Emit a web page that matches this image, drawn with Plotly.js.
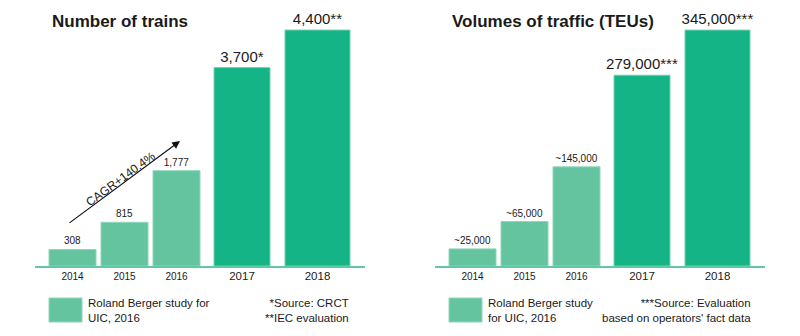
<!DOCTYPE html>
<html><head><meta charset="utf-8">
<script src="https://cdn.plot.ly/plotly-3.0.1.min.js"></script>
<style>html,body{margin:0;padding:0;background:#fff}#chart{width:800px;height:336px}</style>
</head><body><div id="chart"></div>
<script>
// ---- data ----
const years = ["2014", "2015", "2016", "2017", "2018"];
const trains = [308, 815, 1777, 3700, 4400];
const trainLabels = ["308", "815", "1,777", "3,700*", "4,400**"];
const teus = [25000, 65000, 145000, 279000, 345000];
const teuLabels = ["~25,000", "~65,000", "~145,000", "279,000***", "345,000***"];
const sources = ["study", "study", "study", "eval", "eval"];

// ---- layout helpers (styling, not data) ----
const W = 800, H = 336;
const barCenters = [37.5, 89.5, 141.5, 207, 282.5]; // px within axis
const barWidths = [47, 47, 47, 56, 65];
const lightG = "#64c4a0", darkG = "#15b487";
const colors = sources.map(s => s === "study" ? lightG : darkG);
const lineCols = sources.map(s => s === "study" ? "#8fd5ba" : "#6fd3b0");
const labelSizes = sources.map(s => s === "study" ? 10 : 15);
const tickSizes = sources.map(s => s === "study" ? 10 : 11.5);
const tickText = years.map((y, i) => `<span style="font-size:${tickSizes[i]}px">${y}</span>`);
const px = x => x / W, py = y => 1 - y / H;
const FONT = "Liberation Sans, Arial, sans-serif";

function barTrace(vals, labels, xa, ya) {
  return {
    type: "bar", x: barCenters, y: vals, width: barWidths,
    xaxis: xa, yaxis: ya,
    marker: {color: colors, line: {color: lineCols, width: 1}},
    text: labels, textposition: "outside", cliponaxis: false, constraintext: "none",
    textfont: {size: labelSizes, color: "#1a1a1a", family: FONT},
    hoverinfo: "skip", showlegend: false
  };
}

const data = [
  barTrace(trains, trainLabels, "x", "y"),
  barTrace(teus, teuLabels, "x2", "y2")
];

function xaxis(d0, d1, anchor) {
  return {
    domain: [px(d0), px(d1)], range: [0, 330], anchor: anchor,
    showgrid: false, zeroline: false, showline: true,
    linecolor: "#5fc9a1", linewidth: 2,
    tickmode: "array", tickvals: barCenters, ticktext: tickText,
    ticks: "", tickfont: {family: FONT, color: "#1a1a1a", size: 10},
    fixedrange: true
  };
}
function yaxis(max, anchor) {
  return {
    domain: [1 - 266 / H, 1], range: [0, max], anchor: anchor,
    visible: false, showgrid: false, zeroline: false, fixedrange: true
  };
}

const ann = [];
function txt(x, y, text, size, opts) {
  ann.push(Object.assign({
    xref: "paper", yref: "paper", x: px(x), y: py(y), text: text,
    showarrow: false, font: {family: FONT, size: size, color: "#1a1a1a"},
    xanchor: "left", yanchor: "middle", align: "left"
  }, opts || {}));
}
// titles
txt(50, 21, "<b>Number of trains</b>", 17);
txt(450, 21, "<b>Volumes of traffic (TEUs)</b>", 17);
// CAGR arrow
ann.push({xref: "paper", yref: "paper", x: px(180), y: py(141), ax: -112, ay: 83,
  axref: "pixel", ayref: "pixel", text: "", showarrow: true,
  arrowhead: 2, arrowsize: 1.3, arrowwidth: 1.2, arrowcolor: "#111"});
txt(120.5, 178.5, "CAGR+140.4%", 12, {xanchor: "center", textangle: -36.5});
// legends
txt(86, 310, "Roland Berger study for<br>UIC, 2016", 11.5);
txt(486, 310, "Roland Berger study<br>for UIC, 2016", 11.5);
txt(351, 310, "*Source: CRCT<br>**IEC evaluation", 11.5, {xanchor: "right", align: "right"});
txt(753, 310, "***Source: Evaluation<br>based on operators' fact data", 11.5, {xanchor: "right", align: "right"});

const shapes = [49, 449].map(x0 => ({
  type: "rect", xref: "paper", yref: "paper",
  x0: px(x0), x1: px(x0 + 33), y0: py(322), y1: py(298),
  fillcolor: lightG, line: {color: "#8fd5ba", width: 1}
}));

const layout = {
  width: W, height: H, margin: {l: 0, r: 0, t: 0, b: 0},
  paper_bgcolor: "#fff", plot_bgcolor: "#fff",
  font: {family: FONT, color: "#1a1a1a"},
  bargap: 0,
  xaxis: xaxis(35, 365, "y"), yaxis: yaxis(4960, "x"),
  xaxis2: xaxis(435, 765, "y2"), yaxis2: yaxis(389000, "x2"),
  annotations: ann, shapes: shapes, showlegend: false
};
Plotly.newPlot("chart", data, layout, {staticPlot: true, displayModeBar: false});
</script></body></html>
